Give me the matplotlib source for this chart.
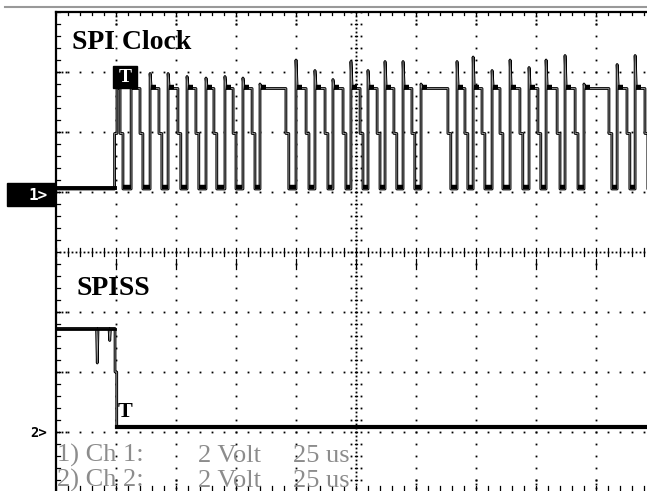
import numpy as np
import matplotlib
matplotlib.use("Agg")
import matplotlib.pyplot as plt
import matplotlib.patheffects as pe
from matplotlib.patches import Rectangle
from matplotlib.lines import Line2D

# scope settings
us_per_div = 25.0
volt_per_div = 2.0
ch1_ground = 5.0      # divisions from bottom of screen
ch2_ground = 1.0
t_left, t_right = -25.0, 225.0   # screen spans 10 div, trigger 1 div in

# SPI clock edges (us after trigger)
clk_fall_us = [1.7, 10.0, 17.9, 25.8, 33.3, 40.8, 48.8, 56.7,
               70.8, 79.2, 87.1, 94.6, 101.7, 108.8, 115.8, 123.3,
               138.3, 145.4, 152.5, 160.0, 168.3, 175.8, 183.8, 191.3,
               205.4, 212.9, 220.4]
clk_rise_us = [6.3, 14.2, 21.7, 29.6, 37.5, 45.4, 52.9, 60.0,
               75.0, 82.9, 90.4, 97.9, 105.0, 112.1, 119.6, 127.1,
               142.1, 148.8, 156.7, 164.2, 172.1, 179.2, 187.1, 195.0,
               208.8, 216.3]
clk_peak_v = [3.9, 3.95, 3.95, 3.85, 3.8, 3.85, 3.8, 3.6,
              4.4, 4.05, 3.75, 4.35, 4.05, 4.35, 4.35, 3.6,
              4.35, 4.5, 4.05, 4.4, 4.15, 4.4, 4.55, 3.6,
              4.25, 4.55]
clk_high_v = 3.45
clk_mid_v = 1.95
clk_low_v = 0.1
clk_start_us = -0.6

# SPISS samples
ss_t_us = [-25.0, -8.1, -7.8, -7.5, -2.9, -2.6, -2.3, -0.4, -0.4, 0.3, 0.3, 226.0]
ss_v = [3.45, 3.45, 2.3, 3.45, 3.45, 3.05, 3.45, 3.45, 2.0, 2.0, 0.15, 0.15]

W, H = 647, 491
fig = plt.figure(figsize=(W / 100, H / 100), dpi=100)
fig.patch.set_facecolor("white")
ax = fig.add_axes([56 / W, (H - 492) / H, 600 / W, 480 / H])
ax.set_xlim(t_left, t_right)
ax.set_ylim(0, 8)
ax.set_xticks([])
ax.set_yticks([])
for s in ["right", "bottom"]:
    ax.spines[s].set_visible(False)
ax.spines["left"].set_linewidth(1.6)
ax.spines["top"].set_linewidth(1.6)

def px2t(x):
    return t_left + (x - 56) * us_per_div / 60.0

def px2d(y):
    return (492 - y) / 60.0

# grid dots
minor_t = np.arange(t_left, t_right + 0.01, us_per_div / 5)
minor_d = np.arange(0, 8.01, 0.2)
dot = dict(ls="none", marker="s", ms=1.3, mew=0, color="black")
tick = dict(color="black", lw=0.9)
for k in range(1, 10):
    tx = t_left + k * us_per_div
    if k == 5:
        continue
    ax.plot(np.full_like(minor_d, tx), minor_d, **dot)
    ax.plot(np.full(4, tx), np.linspace(8, 7.8, 4), **dot)
    ax.plot(np.full(4, tx), np.linspace(0, 0.2, 4), **dot)
for k in range(1, 8):
    if k == 4:
        continue
    ax.plot(minor_t, np.full_like(minor_t, k), **dot)
    ax.plot(np.linspace(t_left, t_left + 4, 4), np.full(4, k), **dot)

# centre axes, denser
ct = t_left + 5 * us_per_div
dense_d = np.arange(0, 8.01, 0.0667)
dense_t = np.arange(t_left, t_right + 0.01, us_per_div / 15)
ax.plot(np.full_like(dense_d, ct), dense_d, **dot)
ax.plot(dense_t, np.full_like(dense_t, 4), **dot)
for d in minor_d:
    ax.plot([ct - 2.0, ct + 2.0], [d, d], **dot)
    ax.plot([ct - 0.6, ct + 0.6], [d, d], **tick)
for tx in minor_t:
    ax.plot([tx, tx], [4 - 0.07, 4 + 0.07], **tick)
for k in range(0, 10):
    tx = t_left + k * us_per_div
    ax.plot([tx, tx], [3.88, 3.72], **tick)

# border ticks
for tx in minor_t:
    ax.plot([tx, tx], [8, 7.95], **tick)
    ax.plot([tx, tx], [0, 0.1], **tick)
for d in minor_d:
    ax.plot([t_left, t_left + 1.5], [d, d], **tick)

trace_fx = [pe.Stroke(linewidth=2.0, foreground="black"),
            pe.Stroke(linewidth=0.6, foreground="#9a9a9a")]

# channel 1 trace
t = [t_left, clk_start_us, clk_start_us, clk_start_us + 1.0, clk_start_us + 1.0]
v = [clk_low_v, clk_low_v, clk_mid_v, clk_mid_v, clk_high_v]
step = 1.2
for i, f in enumerate(clk_fall_us):
    t += [f, f, f + step, f + step]
    v += [clk_high_v, clk_mid_v, clk_mid_v, clk_low_v]
    if i < len(clk_rise_us):
        r = clk_rise_us[i]
        t += [r, r, r + 0.5]
        v += [clk_low_v, clk_peak_v[i], clk_high_v]
t += [t_right + 1]
v += [clk_low_v]
ch1 = ch1_ground + np.array(v) / volt_per_div
ax.plot(t, ch1, color="black", lw=1.0, path_effects=trace_fx)
# noisy bands at the flat parts
ax.plot([t_left, clk_start_us], [ch1_ground + 0.15 / volt_per_div] * 2, color="black", lw=2.8)
for i, r in enumerate(clk_rise_us):
    lo_start = clk_fall_us[i] + step
    ax.plot([lo_start + 0.2, r - 0.2], [ch1_ground + 0.17 / volt_per_div] * 2,
            color="black", lw=3.2, solid_capstyle="butt")
    ax.plot([r + 0.5, r + 2.4], [ch1_ground + (clk_high_v + 0.05) / volt_per_div] * 2,
            color="black", lw=3.2, solid_capstyle="butt")

# channel 2 trace
ch2 = ch2_ground + np.array(ss_v) / volt_per_div
ax.plot(ss_t_us, ch2, color="black", lw=1.0, path_effects=trace_fx)
ax.plot([t_left, -0.5], [ch2_ground + 3.45 / volt_per_div] * 2, color="black", lw=2.0)
ax.plot([0.3, t_right + 1], [ch2_ground + 0.18 / volt_per_div] * 2, color="black", lw=3.0)

# trigger marks
ax.add_patch(Rectangle((px2t(113), px2d(88)), px2t(137) - px2t(113), px2d(66) - px2d(88),
                       color="black", zorder=5))
ax.text(px2t(125), px2d(77), "T", color="white", fontsize=14, fontweight="bold",
        family="Liberation Serif", ha="center", va="center", zorder=6)
ax.text(px2t(118), px2d(417), "T", color="black", fontsize=16, fontweight="bold",
        family="Liberation Serif", ha="left", va="baseline")

# labels
ax.text(px2t(72), px2d(49), "SPI Clock", fontsize=20, fontweight="bold",
        family="Liberation Serif", va="baseline")
ax.text(px2t(77), px2d(295), "SPISS", fontsize=20, fontweight="bold",
        family="Liberation Serif", va="baseline")

gray = "#8c8c8c"
for row, base in [(1, 462), (2, 487)]:
    ax.text(px2t(57), px2d(base), "%d) Ch %d:" % (row, row), color=gray, fontsize=19,
            family="Liberation Serif", va="baseline", clip_on=False)
    ax.text(px2t(198), px2d(base), "2 Volt", color=gray, fontsize=19,
            family="Liberation Serif", va="baseline", clip_on=False)
    ax.text(px2t(293), px2d(base), "25 us", color=gray, fontsize=19,
            family="Liberation Serif", va="baseline", clip_on=False)

# channel markers
fig.patches.append(Rectangle((7 / W, 1 - 206 / H), 48 / W, 23 / H, color="black",
                             transform=fig.transFigure, figure=fig))
fig.text(29 / W, 1 - 195 / H, "1>", color="white", fontsize=11.5, fontweight="bold",
         family="DejaVu Sans Mono", va="center")
fig.text(30 / W, 1 - 433 / H, "2>", color="black", fontsize=10, fontweight="bold",
         family="DejaVu Sans Mono", va="center")

# top gray line
fig.lines.append(Line2D([5 / W, 1], [1 - 7 / H, 1 - 7 / H], color="#999999", lw=1.5,
                        transform=fig.transFigure, figure=fig))

fig.savefig("out.png", dpi=100)
